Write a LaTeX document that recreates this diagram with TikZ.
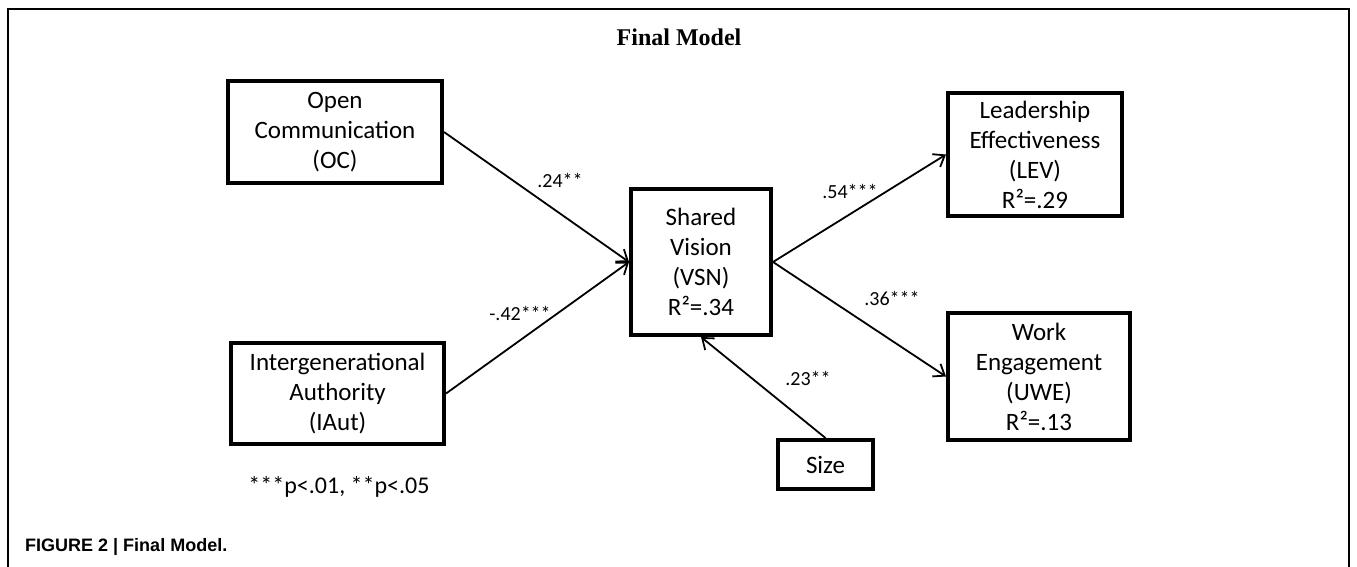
\documentclass[tikz,border=0pt]{standalone}
\usepackage{fontspec}
\setmainfont{Carlito}
\newfontfamily\titlefont{Liberation Serif}
\newfontfamily\capfont{Liberation Sans}
\usetikzlibrary{arrows.meta}

\begin{document}
\begin{tikzpicture}[x=1pt, y=-1pt,
  var/.style = {draw, line width=4pt, inner sep=0pt, align=center,
    font=\fontsize{25}{30}\selectfont},
  effect/.style = {line width=1.8pt,
    -{Straight Barb[length=10pt, width=15pt, line width=1.8pt]}},
  coef/.style = {font=\fontsize{20}{24}\selectfont}]
  \useasboundingbox (0,0) rectangle (1357,566);
  \draw[line width=1.3pt] (8,570) -- (8,9) -- (1349,9) -- (1349,570);
  \node (title) at (679,37) {\titlefont\bfseries\fontsize{24}{28}\selectfont Final Model};

  \node[var, minimum width=214, minimum height=102] (oc) at (335,132)
    {Open\\Communication\\(OC)};
  \node[var, minimum width=213, minimum height=101] (iaut) at (337.5,393.5)
    {Intergenerational\\Authority\\(IAut)};
  \node[var, minimum width=140, minimum height=146] (vsn) at (701,262)
    {Shared\\Vision\\(VSN)\\R²=.34};
  \node[var, minimum width=174, minimum height=123] (lev) at (1035,154.5)
    {Leadership\\Effectiveness\\(LEV)\\R²=.29};
  \node[var, minimum width=182, minimum height=127] (uwe) at (1039,376.5)
    {Work\\Engagement\\(UWE)\\R²=.13};
  \node[var, minimum width=95, minimum height=49] (size) at (825.5,464.5) {Size};

  \draw[effect] (oc.east) -- (vsn.west);
  \draw[effect] (iaut.east) -- (vsn.west);
  \draw[effect] (vsn.east) -- (lev.west);
  \draw[effect] (vsn.east) -- (uwe.west);
  \draw[effect] (size.north) -- (vsn.south);

  \node[coef] (c-oc) at (560,180) {.24**};
  \node[coef] (c-iaut) at (520,313) {-.42***};
  \node[coef] (c-lev) at (850,191) {.54***};
  \node[coef] (c-uwe) at (892,298) {.36***};
  \node[coef] (c-size) at (808,378) {.23**};

  \node[font=\fontsize{24}{28}\selectfont] (note) at (339,487) {***p<.01, **p<.05};
  \node[anchor=west, inner sep=0pt] (caption) at (25,547)
    {\capfont\bfseries\fontsize{18}{21}\selectfont FIGURE 2 | Final Model.};
\end{tikzpicture}
\end{document}
